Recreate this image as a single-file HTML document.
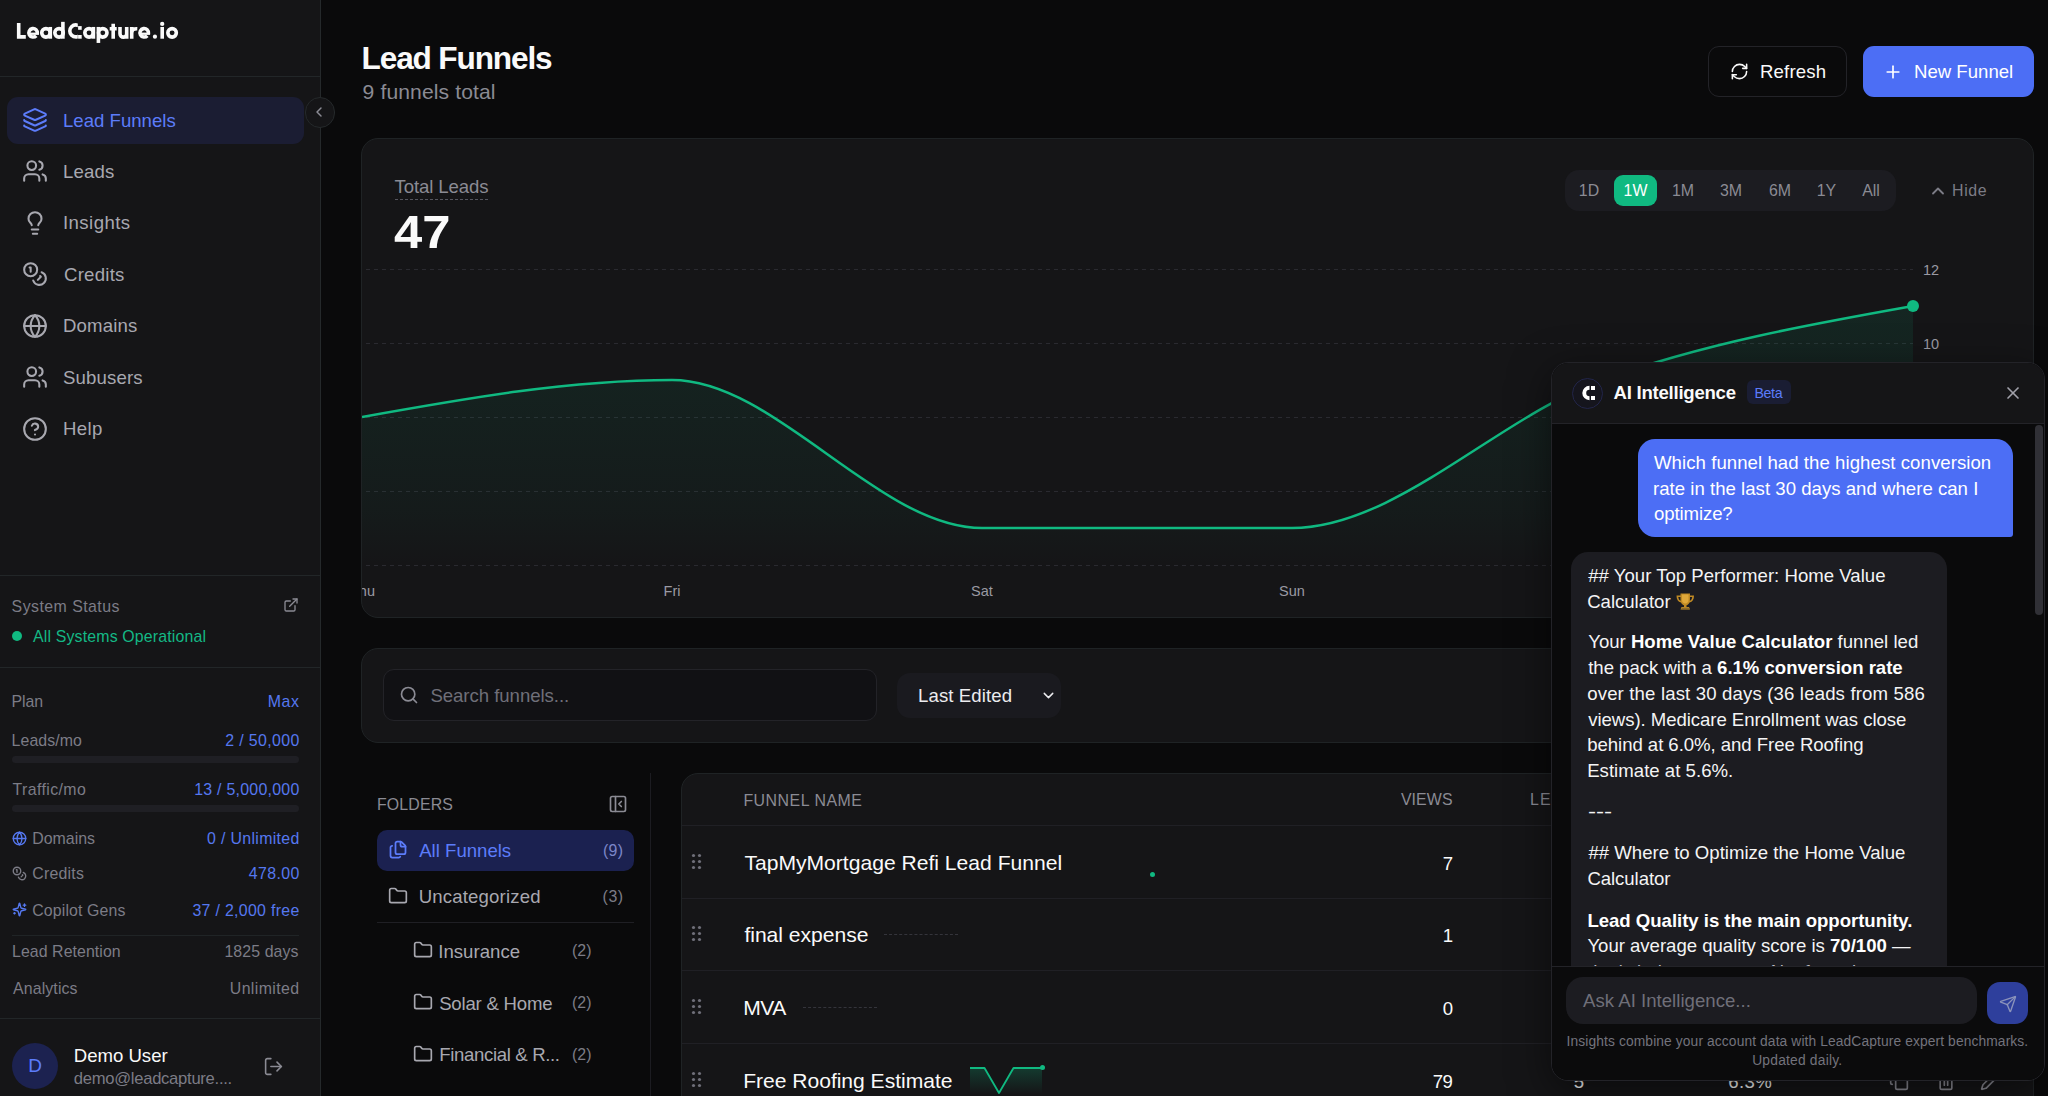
<!DOCTYPE html>
<html lang="en">
<head>
<meta charset="utf-8">
<title>Lead Funnels</title>
<style>
*{box-sizing:border-box;margin:0;padding:0}
html,body{width:2048px;height:1096px;overflow:hidden;background:#0a0a0b}
body{font-family:"Liberation Sans",sans-serif;color:#fafafa;position:relative}
.abs{position:absolute;white-space:nowrap}
svg{display:block}
/* ---------- sidebar ---------- */
#side{position:absolute;left:0;top:0;width:321px;height:1096px;background:#151517;border-right:1px solid #25292b}
.logo{left:16px;top:15px;font-size:22.7px;font-weight:700;color:#fff;line-height:30px;-webkit-text-stroke:.45px #fff}
.hr{position:absolute;left:0;width:320px;height:1px;background:#222628}
.nav{position:absolute;left:7px;width:297px;height:47px;border-radius:11px}
.nav.on{background:#1b1d33}
.nav svg{position:absolute;left:15px;top:10.3px}
.nav span{position:absolute;left:56px;top:11px;font-size:18.6px;line-height:24px;color:#a8a8b0;white-space:nowrap}
.nav.on span{color:#5c7cfa}
.sl{font-size:15.9px;line-height:20px;color:#7c7c86}
.sv{font-size:15.9px;line-height:20px;color:#5578f0;right:21px;text-align:right}
.sg{font-size:15.9px;line-height:20px;color:#7c7c86;right:21px;text-align:right}
.bar{position:absolute;left:12px;width:287px;height:7px;border-radius:4px;background:#1f1f24}
/* ---------- main ---------- */
#chat{position:absolute;left:1551px;top:361.7px;width:494px;height:719px;border:1px solid #232328;border-radius:17px;background:#0a0a0b;overflow:hidden;box-shadow:0 10px 40px rgba(0,0,0,.5)}
.cm{font-size:18.6px;line-height:25.800px;color:#f4f4f5}
.cm b{font-weight:700;color:#fff}

.fn{font-size:18.6px;line-height:24px;color:#a8a8b0}
.fc{font-size:15.9px;line-height:20px;color:#7c7c86}
.th{font-size:15.9px;line-height:20px;color:#8b8b94;letter-spacing:1.200px}
.tl{left:682px;width:1351px;height:1px;background:#202025}
.tn{left:743px;font-size:21.1px;line-height:28px;color:#fafafa}
.tv{right:595px;font-size:18.6px;line-height:24px;color:#fafafa}
.grip{left:691px;width:12px;height:18px}

.rg{top:181px;font-size:15.9px;line-height:20px;color:#8b8b94;transform:translateX(-50%)}

.card{position:absolute;background:#151517;border:1px solid #1f2325;border-radius:17px}
</style>
</head>
<body>

<!-- ================= SIDEBAR ================= -->
<div id="side">
  <svg class="abs" style="left:0;top:0" width="200" height="60" viewBox="0 0 200 60"><defs><clipPath id="lc"><rect x="60" y="20" width="17.8" height="22"/></clipPath></defs><g fill="none" stroke="#fafafa" stroke-width="3.6"><path d="M18.7 23.06V36.92H25.8" stroke-linejoin="miter"/><path d="M37.30 33.45A4.25 4.25 0 1 0 36.21 35.69"/><path d="M28.80 33.75H39.00" stroke-width="2.3"/><circle cx="45.95" cy="32.85" r="4.25"/><path d="M50.3 26.95V38.72"/><circle cx="59.05" cy="32.85" r="4.25"/><path d="M62.9 21.84V38.72"/><circle cx="75.8" cy="30.9" r="6" clip-path="url(#lc)"/><circle cx="89.05" cy="32.85" r="4.25"/><path d="M93.4 26.95V38.72"/><path d="M98.4 26.95V42.94"/><circle cx="102.75" cy="32.85" r="4.25"/><path d="M113.2 23.7V38.72M109.7 28.7H116.7"/><path d="M120 26.95V33.75A3.35 3.35 0 0 0 126.7 33.75V26.95M126.7 26.95V38.72"/><path d="M131.7 26.95V38.72M131.7 33.500C131.7 29.800 133.600 28.600 137.300 28.750"/><path d="M148.40 33.45A4.25 4.25 0 1 0 147.31 35.69"/><path d="M139.90 33.75H150.10" stroke-width="2.3"/><path d="M162.2 26.95V38.72"/><circle cx="172.10" cy="32.85" r="4.25"/></g><g fill="#fafafa"><rect x="78.1" y="26.1" width="3.6" height="3.7"/><rect x="78.1" y="35" width="3.6" height="3.7"/><circle cx="154.950" cy="36.650" r="2.100"/><circle cx="162.2" cy="23.950" r="2.150"/></g></svg>
  <div class="hr" style="top:76px"></div>

  <div class="nav on" style="top:97px">
    <svg width="26" height="26" viewBox="0 0 24 24" fill="none" stroke="#5c7cfa" stroke-width="1.9" stroke-linecap="round" stroke-linejoin="round"><path d="M12.83 2.18a2 2 0 0 0-1.66 0L2.6 6.080a1 1 0 0 0 0 1.830l8.580 3.910a2 2 0 0 0 1.660 0l8.580-3.900a1 1 0 0 0 0-1.830z"/><path d="M2 12a1 1 0 0 0 .580.910l8.600 3.910a2 2 0 0 0 1.650 0l8.580-3.900A1 1 0 0 0 22 12"/><path d="M2 17a1 1 0 0 0 .580.910l8.600 3.910a2 2 0 0 0 1.650 0l8.580-3.900A1 1 0 0 0 22 17"/></svg>
    <span style="margin-left:0.0px;margin-top:0.8px;letter-spacing:0.00px">Lead Funnels</span>
  </div>
  <div class="nav" style="top:148px">
    <svg width="26" height="26" viewBox="0 0 24 24" fill="none" stroke="#a8a8b0" stroke-width="1.9" stroke-linecap="round" stroke-linejoin="round"><path d="M16 21v-2a4 4 0 0 0-4-4H6a4 4 0 0 0-4 4v2"/><circle cx="9" cy="7" r="4"/><path d="M22 21v-2a4 4 0 0 0-3-3.870"/><path d="M16 3.130a4 4 0 0 1 0 7.750"/></svg>
    <span style="margin-left:0.0px;margin-top:1.0px;letter-spacing:0.13px">Leads</span>
  </div>
  <div class="nav" style="top:200px">
    <svg width="26" height="26" viewBox="0 0 24 24" fill="none" stroke="#a8a8b0" stroke-width="1.9" stroke-linecap="round" stroke-linejoin="round"><path d="M15 14c.2-1 .7-1.700 1.500-2.500 1-.900 1.500-2.200 1.500-3.500A6 6 0 0 0 6 8c0 1 .2 2.200 1.500 3.500.7.700 1.300 1.500 1.500 2.500"/><path d="M9 18h6"/><path d="M10 22h4"/></svg>
    <span style="margin-left:0.0px;letter-spacing:0.43px">Insights</span>
  </div>
  <div class="nav" style="top:251px">
    <svg width="26" height="26" viewBox="0 0 24 24" fill="none" stroke="#a8a8b0" stroke-width="1.9" stroke-linecap="round" stroke-linejoin="round"><circle cx="8" cy="8" r="6"/><path d="M18.090 10.370A6 6 0 1 1 10.340 18"/><path d="M7 6h1v4"/><path d="m16.710 13.880.7.710-2.820 2.820"/></svg>
    <span style="margin-left:1.0px;margin-top:1.2px;letter-spacing:0.25px">Credits</span>
  </div>
  <div class="nav" style="top:303px">
    <svg width="26" height="26" viewBox="0 0 24 24" fill="none" stroke="#a8a8b0" stroke-width="1.9" stroke-linecap="round" stroke-linejoin="round"><circle cx="12" cy="12" r="10"/><path d="M12 2a14.500 14.500 0 0 0 0 20 14.500 14.500 0 0 0 0-20"/><path d="M2 12h20"/></svg>
    <span style="margin-left:0.0px;margin-top:0.0px;letter-spacing:0.17px">Domains</span>
  </div>
  <div class="nav" style="top:354px">
    <svg width="26" height="26" viewBox="0 0 24 24" fill="none" stroke="#a8a8b0" stroke-width="1.9" stroke-linecap="round" stroke-linejoin="round"><path d="M16 21v-2a4 4 0 0 0-4-4H6a4 4 0 0 0-4 4v2"/><circle cx="9" cy="7" r="4"/><path d="M22 21v-2a4 4 0 0 0-3-3.870"/><path d="M16 3.130a4 4 0 0 1 0 7.750"/></svg>
    <span style="margin-left:0.0px;margin-top:0.8px;letter-spacing:0.14px">Subusers</span>
  </div>
  <div class="nav" style="top:406px">
    <svg width="26" height="26" viewBox="0 0 24 24" fill="none" stroke="#a8a8b0" stroke-width="1.9" stroke-linecap="round" stroke-linejoin="round"><circle cx="12" cy="12" r="10"/><path d="M9.090 9a3 3 0 0 1 5.830 1c0 2-3 3-3 3"/><path d="M12 17h.01"/></svg>
    <span style="margin-left:0.0px;letter-spacing:0.33px">Help</span>
  </div>

  <!-- system status -->
  <div class="hr" style="top:575px"></div>
  <div class="abs sl" style="left:11.6px;top:597.0px;font-size:15.9px;letter-spacing:0.45px">System Status</div>
  <svg class="abs" style="left:283px;top:597px" width="16" height="16" viewBox="0 0 24 24" fill="none" stroke="#8b8b94" stroke-width="2" stroke-linecap="round" stroke-linejoin="round"><path d="M15 3h6v6"/><path d="M10 14 21 3"/><path d="M18 13v6a2 2 0 0 1-2 2H5a2 2 0 0 1-2-2V8a2 2 0 0 1 2-2h6"/></svg>
  <div class="abs" style="left:12px;top:631px;width:10px;height:10px;border-radius:50%;background:#10b981"></div>
  <div class="abs" style="left:33.0px;top:627.0px;font-size:15.9px;line-height:20px;color:#14b885;letter-spacing:0.16px">All Systems Operational</div>
  <div class="hr" style="top:667px"></div>

  <!-- plan -->
  <div class="abs sl" style="left:11.6px;top:692px;letter-spacing:-0.13px">Plan</div>
  <div class="abs sv" style="top:692px;margin-right:-0.6px;letter-spacing:0.60px">Max</div>
  <div class="abs sl" style="left:11.6px;top:731px;letter-spacing:0.06px">Leads/mo</div>
  <div class="abs sv" style="top:731px;margin-right:-0.6px;letter-spacing:0.37px">2 / 50,000</div>
  <div class="bar" style="top:756px"></div>
  <div class="abs sl" style="left:12.6px;top:780px;letter-spacing:0.38px">Traffic/mo</div>
  <div class="abs sv" style="top:780px;margin-right:-0.6px;letter-spacing:0.27px">13 / 5,000,000</div>
  <div class="bar" style="top:805px"></div>

  <svg class="abs" style="left:12px;top:831px" width="15" height="15" viewBox="0 0 24 24" fill="none" stroke="#5578f0" stroke-width="2.200" stroke-linecap="round" stroke-linejoin="round"><circle cx="12" cy="12" r="10"/><path d="M12 2a14.500 14.500 0 0 0 0 20 14.500 14.500 0 0 0 0-20"/><path d="M2 12h20"/></svg>
  <div class="abs sl" style="left:32.2px;top:829px;letter-spacing:0.03px">Domains</div>
  <div class="abs sv" style="top:829px;margin-right:-0.6px;letter-spacing:0.32px">0 / Unlimited</div>

  <svg class="abs" style="left:12px;top:866px" width="15" height="15" viewBox="0 0 24 24" fill="none" stroke="#7c7c86" stroke-width="2.200" stroke-linecap="round" stroke-linejoin="round"><circle cx="8" cy="8" r="6"/><path d="M18.090 10.370A6 6 0 1 1 10.340 18"/><path d="M7 6h1v4"/><path d="m16.710 13.880.7.710-2.820 2.820"/></svg>
  <div class="abs sl" style="left:32.2px;top:864px;letter-spacing:0.23px">Credits</div>
  <div class="abs sv" style="top:864px;margin-right:-0.6px;letter-spacing:0.36px">478.00</div>

  <svg class="abs" style="left:12px;top:902px" width="15" height="15" viewBox="0 0 24 24" fill="none" stroke="#5578f0" stroke-width="2.200" stroke-linecap="round" stroke-linejoin="round"><path d="M9.940 15.500A2 2 0 0 0 8.500 14.060l-6.140-1.580a.5.5 0 0 1 0-.960L8.500 9.940A2 2 0 0 0 9.940 8.500l1.580-6.140a.5.5 0 0 1 .960 0L14.060 8.500A2 2 0 0 0 15.500 9.940l6.140 1.580a.5.5 0 0 1 0 .960L15.500 14.060a2 2 0 0 0-1.440 1.440l-1.580 6.140a.5.5 0 0 1-.960 0z"/><path d="M20 3v4"/><path d="M22 5h-4"/><path d="M4 17v2"/><path d="M5 18H3"/></svg>
  <div class="abs sl" style="left:32.2px;top:901px;letter-spacing:0.13px">Copilot Gens</div>
  <div class="abs sv" style="top:901px;margin-right:-0.6px;letter-spacing:0.31px">37 / 2,000 free</div>

  <div class="abs" style="left:12px;top:935px;width:287px;height:1px;background:#202426"></div>
  <div class="abs sl" style="left:12.0px;top:942px;letter-spacing:0.07px">Lead Retention</div>
  <div class="abs sg" style="top:942px;margin-right:0.4px;letter-spacing:0.10px">1825 days</div>
  <div class="abs sl" style="left:13.0px;top:979px;letter-spacing:0.12px">Analytics</div>
  <div class="abs sg" style="top:979px;margin-right:-0.6px;letter-spacing:0.40px">Unlimited</div>

  <div class="hr" style="top:1018px"></div>
  <!-- user -->
  <div class="abs" style="left:12px;top:1043px;width:46px;height:46px;border-radius:50%;background:#1c2250;color:#5c7cfa;font-size:19px;line-height:46px;text-align:center">D</div>
  <div class="abs" style="left:73.8px;top:1044px;font-size:18.6px;line-height:24px;color:#fafafa;letter-spacing:-0.02px">Demo User</div>
  <div class="abs" style="left:73.8px;top:1068px;font-size:16.6px;line-height:22px;color:#7c7c86;letter-spacing:-0.27px">demo@leadcapture....</div>
  <svg class="abs" style="left:263px;top:1056px" width="21" height="21" viewBox="0 0 24 24" fill="none" stroke="#8b8b94" stroke-width="1.800" stroke-linecap="round" stroke-linejoin="round"><path d="M9 21H5a2 2 0 0 1-2-2V5a2 2 0 0 1 2-2h4"/><path d="m16 17 5-5-5-5"/><path d="M21 12H9"/></svg>
</div>
<!-- collapse toggle -->
<div class="abs" style="left:304.5px;top:97.2px;width:30.6px;height:30.6px;border-radius:50%;background:#151517;border:1px solid #25292b"></div>
<svg class="abs" style="left:311px;top:104px" width="16" height="16" viewBox="0 0 24 24" fill="none" stroke="#8b8b94" stroke-width="2.200" stroke-linecap="round" stroke-linejoin="round"><path d="m15 18-6-6 6-6"/></svg>

<!-- ================= HEADER ================= -->
<div class="abs" style="left:361.6px;top:39.1px;font-size:31.6px;font-weight:700;line-height:38px;color:#fafafa;letter-spacing:-1.15px">Lead Funnels</div>
<div class="abs" style="left:362.6px;top:79px;font-size:21.1px;line-height:26px;color:#8b8b94;letter-spacing:0.11px">9 funnels total</div>


<!-- header buttons -->
<div class="abs" style="left:1708px;top:46px;width:139px;height:51px;border:1px solid #232328;border-radius:11px;background:#0a0a0b"></div>
<svg class="abs" style="left:1730px;top:62px" width="19" height="19" viewBox="0 0 24 24" fill="none" stroke="#fafafa" stroke-width="2" stroke-linecap="round" stroke-linejoin="round"><path d="M3 12a9 9 0 0 1 9-9 9.750 9.750 0 0 1 6.740 2.740L21 8"/><path d="M21 3v5h-5"/><path d="M21 12a9 9 0 0 1-9 9 9.750 9.750 0 0 1-6.740-2.740L3 16"/><path d="M8 16H3v5"/></svg>
<div class="abs" style="left:1760.0px;top:60.2px;font-size:18.6px;line-height:24px;color:#fafafa;letter-spacing:0.16px">Refresh</div>
<div class="abs" style="left:1863px;top:46px;width:171px;height:51px;border-radius:11px;background:#4c6ef5"></div>
<svg class="abs" style="left:1883px;top:62px" width="20" height="20" viewBox="0 0 24 24" fill="none" stroke="#fff" stroke-width="2" stroke-linecap="round"><path d="M5 12h14"/><path d="M12 5v14"/></svg>
<div class="abs" style="left:1914.0px;top:60.2px;font-size:18.6px;line-height:24px;color:#fff;letter-spacing:0.00px">New Funnel</div>

<!-- ================= CHART CARD ================= -->
<div class="card" style="left:361.4px;top:138.4px;width:1672.6px;height:479.4px"></div>
<div class="abs" style="left:394.6px;top:175.9px;font-size:18.6px;line-height:22px;color:#8b8b94;border-bottom:1px dashed #55555e;padding-bottom:1px;letter-spacing:-0.12px">Total Leads</div>
<div class="abs" style="left:394.4px;top:204px;font-size:46.2px;font-weight:700;line-height:56px;color:#fafafa;letter-spacing:0;transform:scaleX(1.1);transform-origin:0 0">47</div>

<div class="abs" style="left:1565px;top:170px;width:331px;height:41px;border-radius:14px;background:#1c1c21"></div>
<div class="abs" style="left:1614px;top:175px;width:43px;height:31px;border-radius:9px;background:#10b981"></div>
<div class="abs rg" style="left:1589px">1D</div>
<div class="abs rg" style="left:1635.500px;color:#fff">1W</div>
<div class="abs rg" style="left:1683px">1M</div>
<div class="abs rg" style="left:1731px">3M</div>
<div class="abs rg" style="left:1780px">6M</div>
<div class="abs rg" style="left:1826.500px">1Y</div>
<div class="abs rg" style="left:1871px">All</div>
<svg class="abs" style="left:1927.5px;top:181px" width="20" height="20" viewBox="0 0 24 24" fill="none" stroke="#7c7c86" stroke-width="2.200" stroke-linecap="round" stroke-linejoin="round"><path d="m18 15-6-6-6 6"/></svg>
<div class="abs" style="left:1952.0px;top:181px;font-size:15.9px;line-height:20px;color:#7c7c86;letter-spacing:0.66px">Hide</div>

<svg class="abs" style="left:362px;top:250px" width="1672" height="360" viewBox="362 250 1672 360">
  <defs>
    <linearGradient id="ag" x1="0" y1="306" x2="0" y2="565" gradientUnits="userSpaceOnUse">
      <stop offset="0" stop-color="#10b981" stop-opacity=".105"/>
      <stop offset=".8" stop-color="#10b981" stop-opacity=".035"/>
      <stop offset="1" stop-color="#10b981" stop-opacity="0"/>
    </linearGradient>
  </defs>
  <g stroke="#2a2a30" stroke-width="1" stroke-dasharray="4 4">
    <path d="M366 269.500H1913"/><path d="M366 343.500H1913"/><path d="M366 417.500H1913"/><path d="M366 491.500H1913"/><path d="M366 565.500H1913"/>
  </g>
  <path d="M362.0,417.0 C465.3,398.5 568.7,380.0 672.0,380.0 C775.3,380.0 878.7,528.0 982.0,528.0 C1085.3,528.0 1188.7,528.0 1292.0,528.0 C1395.3,528.0 1498.7,417.0 1602.0,380.0 C1705.7,342.9 1809.3,324.5 1913.0,306.0 L1913,565 L362,565 Z" fill="url(#ag)"/>
  <path d="M362.0,417.0 C465.3,398.5 568.7,380.0 672.0,380.0 C775.3,380.0 878.7,528.0 982.0,528.0 C1085.3,528.0 1188.7,528.0 1292.0,528.0 C1395.3,528.0 1498.7,417.0 1602.0,380.0 C1705.7,342.9 1809.3,324.5 1913.0,306.0" fill="none" stroke="#10b981" stroke-width="2.500"/>
  <circle cx="1913" cy="306" r="6" fill="#10b981"/>
  <g fill="#9a9aa3" font-family="Liberation Sans, sans-serif" font-size="14.5">
    <text x="1923" y="274.500">12</text><text x="1923" y="348.500">10</text>
    <text x="350" y="596">Thu</text><text x="672" y="596" text-anchor="middle">Fri</text><text x="982" y="596" text-anchor="middle">Sat</text><text x="1292" y="596" text-anchor="middle">Sun</text>
  </g>
</svg>


<!-- ================= SEARCH CARD ================= -->
<div class="card" style="left:361.4px;top:648.3px;width:1672.6px;height:94.4px"></div>
<div class="abs" style="left:383px;top:669px;width:494px;height:52px;border:1px solid #232328;border-radius:11px;background:#111114"></div>
<svg class="abs" style="left:399px;top:685px" width="20" height="20" viewBox="0 0 24 24" fill="none" stroke="#8b8b94" stroke-width="2" stroke-linecap="round" stroke-linejoin="round"><circle cx="11" cy="11" r="8"/><path d="m21 21-4.300-4.300"/></svg>
<div class="abs" style="left:430.4px;top:684.3px;font-size:18.6px;line-height:24px;color:#6f6f79;letter-spacing:-0.04px">Search funnels...</div>
<div class="abs" style="left:897px;top:673px;width:164px;height:45px;border-radius:13px;background:#1a1a1f"></div>
<div class="abs" style="left:918.0px;top:684.3px;font-size:18.6px;line-height:24px;color:#ececef;letter-spacing:0.10px">Last Edited</div>
<svg class="abs" style="left:1040px;top:687px" width="17" height="17" viewBox="0 0 24 24" fill="none" stroke="#ececef" stroke-width="2" stroke-linecap="round" stroke-linejoin="round"><path d="m6 9 6 6 6-6"/></svg>


<!-- ================= FOLDERS ================= -->
<div class="abs" style="left:377.0px;top:795.1px;font-size:15.9px;line-height:20px;color:#8b8b94;letter-spacing:0.13px">FOLDERS</div>
<svg class="abs" style="left:608px;top:794px" width="20" height="20" viewBox="0 0 24 24" fill="none" stroke="#8b8b94" stroke-width="2" stroke-linecap="round" stroke-linejoin="round"><rect x="3" y="3" width="18" height="18" rx="2"/><path d="M9 3v18"/><path d="m16 15-3-3 3-3"/></svg>
<div class="abs" style="left:377px;top:830px;width:257px;height:41px;border-radius:10px;background:#1b2150"></div>
<svg class="abs" style="left:388px;top:840px" width="20" height="20" viewBox="0 0 24 24" fill="none" stroke="#5c7cfa" stroke-width="2.100" stroke-linecap="round" stroke-linejoin="round"><path d="M15 2a2 2 0 0 1 1.410.590l4 4A2 2 0 0 1 21 8v7a2 2 0 0 1-2 2h-8a2 2 0 0 1-2-2V4a2 2 0 0 1 2-2z"/><path d="M15 2v4a2 2 0 0 0 2 2h4"/><path d="M5 7a2 2 0 0 0-2 2v10a2 2 0 0 0 2 2h8a2 2 0 0 0 1.730-1"/></svg>
<div class="abs" style="left:419.2px;top:838.9px;font-size:18.6px;line-height:24px;color:#5c7cfa;letter-spacing:0.00px">All Funnels</div>
<div class="abs fc" style="left:603.0px;top:840.6px;color:#7c86c8;letter-spacing:0.30px">(9)</div>

<svg class="abs" style="left:388px;top:886px" width="20" height="20" viewBox="0 0 24 24" fill="none" stroke="#a8a8b0" stroke-width="2" stroke-linecap="round" stroke-linejoin="round"><path d="M20 20a2 2 0 0 0 2-2V8a2 2 0 0 0-2-2h-7.900a2 2 0 0 1-1.690-.900L9.600 3.900A2 2 0 0 0 7.930 3H4a2 2 0 0 0-2 2v13a2 2 0 0 0 2 2Z"/></svg>
<div class="abs fn" style="left:418.8px;top:885px;letter-spacing:0.15px">Uncategorized</div>
<div class="abs fc" style="left:602.6px;top:887px;letter-spacing:0.50px">(3)</div>
<div class="abs" style="left:377px;top:922px;width:257px;height:1px;background:#1f1f24"></div>

<svg class="abs" style="left:413px;top:940px" width="20" height="20" viewBox="0 0 24 24" fill="none" stroke="#a8a8b0" stroke-width="2" stroke-linecap="round" stroke-linejoin="round"><path d="M20 20a2 2 0 0 0 2-2V8a2 2 0 0 0-2-2h-7.900a2 2 0 0 1-1.690-.900L9.600 3.900A2 2 0 0 0 7.930 3H4a2 2 0 0 0-2 2v13a2 2 0 0 0 2 2Z"/></svg>
<div class="abs fn" style="left:438.2px;top:939.7px;letter-spacing:0.04px">Insurance</div>
<div class="abs fc" style="left:572.0px;top:941px;letter-spacing:0.00px">(2)</div>

<svg class="abs" style="left:413px;top:992px" width="20" height="20" viewBox="0 0 24 24" fill="none" stroke="#a8a8b0" stroke-width="2" stroke-linecap="round" stroke-linejoin="round"><path d="M20 20a2 2 0 0 0 2-2V8a2 2 0 0 0-2-2h-7.900a2 2 0 0 1-1.690-.900L9.600 3.900A2 2 0 0 0 7.930 3H4a2 2 0 0 0-2 2v13a2 2 0 0 0 2 2Z"/></svg>
<div class="abs fn" style="left:439.2px;top:991.7px;letter-spacing:-0.22px">Solar &amp; Home</div>
<div class="abs fc" style="left:572.0px;top:993px;letter-spacing:0.00px">(2)</div>

<svg class="abs" style="left:413px;top:1044px" width="20" height="20" viewBox="0 0 24 24" fill="none" stroke="#a8a8b0" stroke-width="2" stroke-linecap="round" stroke-linejoin="round"><path d="M20 20a2 2 0 0 0 2-2V8a2 2 0 0 0-2-2h-7.900a2 2 0 0 1-1.690-.900L9.600 3.900A2 2 0 0 0 7.930 3H4a2 2 0 0 0-2 2v13a2 2 0 0 0 2 2Z"/></svg>
<div class="abs fn" style="left:439.2px;top:1043px;letter-spacing:-0.35px">Financial &amp; R...</div>
<div class="abs fc" style="left:572.0px;top:1045px;letter-spacing:0.00px">(2)</div>

<div class="abs" style="left:650px;top:773px;width:1px;height:330px;background:#1c1c21"></div>


<!-- ================= TABLE ================= -->
<div class="card" style="left:681px;top:772.8px;width:1353px;height:360px"></div>
<div class="abs th" style="left:743.4px;top:790.5px;letter-spacing:0.52px">FUNNEL NAME</div>
<div class="abs th" style="right:595.4px;top:790px;letter-spacing:0.10px">VIEWS</div>
<div class="abs th" style="left:1530px;top:790px">LEADS</div>
<div class="abs tl" style="top:825px"></div>
<div class="abs tl" style="top:898px"></div>
<div class="abs tl" style="top:970px"></div>
<div class="abs tl" style="top:1043px"></div>

<svg class="abs grip" style="top:853px"><g fill="#6f6f79"><circle cx="2.500" cy="2.500" r="1.600"/><circle cx="8.500" cy="2.500" r="1.600"/><circle cx="2.500" cy="8.500" r="1.600"/><circle cx="8.500" cy="8.500" r="1.600"/><circle cx="2.500" cy="14.500" r="1.600"/><circle cx="8.500" cy="14.500" r="1.600"/></g></svg>
<div class="abs tn" style="top:849px;margin-left:1.4px;letter-spacing:0.00px">TapMyMortgage Refi Lead Funnel</div>
<div class="abs" style="left:1149.500px;top:871.500px;width:5px;height:5px;border-radius:50%;background:#10b981"></div>
<div class="abs tv" style="top:852px">7</div>

<svg class="abs grip" style="top:925px"><g fill="#6f6f79"><circle cx="2.500" cy="2.500" r="1.600"/><circle cx="8.500" cy="2.500" r="1.600"/><circle cx="2.500" cy="8.500" r="1.600"/><circle cx="8.500" cy="8.500" r="1.600"/><circle cx="2.500" cy="14.500" r="1.600"/><circle cx="8.500" cy="14.500" r="1.600"/></g></svg>
<div class="abs tn" style="top:921px;margin-left:1.4px;letter-spacing:-0.02px">final expense</div>
<div class="abs" style="left:884px;top:934px;width:74px;height:0;border-top:1px dashed #34343b"></div>
<div class="abs tv" style="top:924px">1</div>

<svg class="abs grip" style="top:998px"><g fill="#6f6f79"><circle cx="2.500" cy="2.500" r="1.600"/><circle cx="8.500" cy="2.500" r="1.600"/><circle cx="2.500" cy="8.500" r="1.600"/><circle cx="8.500" cy="8.500" r="1.600"/><circle cx="2.500" cy="14.500" r="1.600"/><circle cx="8.500" cy="14.500" r="1.600"/></g></svg>
<div class="abs tn" style="top:994px;margin-left:0.2px;letter-spacing:-0.50px">MVA</div>
<div class="abs" style="left:803px;top:1007px;width:74px;height:0;border-top:1px dashed #34343b"></div>
<div class="abs tv" style="top:997px">0</div>

<svg class="abs grip" style="top:1071px"><g fill="#6f6f79"><circle cx="2.500" cy="2.500" r="1.600"/><circle cx="8.500" cy="2.500" r="1.600"/><circle cx="2.500" cy="8.500" r="1.600"/><circle cx="8.500" cy="8.500" r="1.600"/><circle cx="2.500" cy="14.500" r="1.600"/><circle cx="8.500" cy="14.500" r="1.600"/></g></svg>
<div class="abs tn" style="top:1067px;margin-left:0.2px;letter-spacing:-0.03px">Free Roofing Estimate</div>
<svg class="abs" style="left:966px;top:1060px" width="84" height="40" viewBox="966 1060 84 40">
  <defs><linearGradient id="sg" x1="0" y1="1067" x2="0" y2="1094" gradientUnits="userSpaceOnUse"><stop offset="0" stop-color="#10b981" stop-opacity=".24"/><stop offset="1" stop-color="#10b981" stop-opacity="0"/></linearGradient></defs>
  <path d="M970 1068h14.500l14.500 25 14.500-25h28.500v26h-72z" fill="url(#sg)"/>
  <path d="M970 1068h14.500l14.500 25 14.500-25h28.500" fill="none" stroke="#10b981" stroke-width="1.800" stroke-linejoin="round"/>
  <circle cx="1042.500" cy="1067.500" r="2.500" fill="#10b981"/>
</svg>
<div class="abs tv" style="top:1069.5px;margin-right:0.8px;letter-spacing:-0.60px">79</div>
<div class="abs" style="left:1573.7px;top:1069.6px;font-size:18.6px;line-height:24px;color:#fafafa">5</div>
<div class="abs" style="left:1728.2px;top:1069.6px;font-size:18.6px;line-height:24px;color:#fafafa;letter-spacing:.4px">6.3%</div>
<svg class="abs" style="left:1889px;top:1071px" width="20" height="20" viewBox="0 0 24 24" fill="none" stroke="#8b8b94" stroke-width="2" stroke-linecap="round" stroke-linejoin="round"><rect width="14" height="14" x="8" y="8" rx="2"/><path d="M4 16c-1.100 0-2-.900-2-2V4c0-1.100.900-2 2-2h10c1.100 0 2 .900 2 2"/></svg>
<svg class="abs" style="left:1936px;top:1071px" width="20" height="20" viewBox="0 0 24 24" fill="none" stroke="#8b8b94" stroke-width="2" stroke-linecap="round" stroke-linejoin="round"><path d="M3 6h18"/><path d="M19 6v14c0 1-1 2-2 2H7c-1 0-2-1-2-2V6"/><path d="M8 6V4c0-1 1-2 2-2h4c1 0 2 1 2 2v2"/><path d="M10 11v6"/><path d="M14 11v6"/></svg>
<svg class="abs" style="left:1980px;top:1071px" width="20" height="20" viewBox="0 0 24 24" fill="none" stroke="#8b8b94" stroke-width="2" stroke-linecap="round" stroke-linejoin="round"><path d="M21.170 6.810a1 1 0 0 0-3.980-3.980L3.840 16.170a2 2 0 0 0-.5.830l-1.320 4.350a.5.5 0 0 0 .620.620l4.350-1.320a2 2 0 0 0 .830-.5z"/></svg>


<!-- ================= CHAT PANEL ================= -->
<div id="chat">
  <div class="abs" style="left:0;top:0;width:100%;height:61.5px;background:#151517;border-bottom:1px solid #232328"></div>
  <div class="abs" style="left:20px;top:15px;width:31px;height:31px;border-radius:50%;background:#15151d;border:1px solid #23264a"></div>
  <svg class="abs" style="left:27px;top:21px" width="18" height="18" viewBox="0 0 18 18"><path d="M10.500 1.800A7.200 7.200 0 1 0 10.500 16.200V12.300A3.300 3.300 0 1 1 10.500 5.700Z" fill="#fff"/><rect x="12" y="2" width="4" height="4" fill="#fff"/><rect x="12" y="12" width="4" height="4" fill="#fff"/></svg>
  <div class="abs" style="left:61.6px;top:18px;font-size:18.6px;font-weight:700;line-height:24px;color:#fafafa;letter-spacing:-0.26px">AI Intelligence</div>
  <div class="abs" style="left:194.5px;top:17px;width:44.5px;height:24.5px;border-radius:6px;background:#1a1d33"></div>
  <div class="abs" style="left:202.4px;top:21px;font-size:14.2px;line-height:18px;color:#5c7cfa;letter-spacing:-0.34px">Beta</div>
  <svg class="abs" style="left:451px;top:20px" width="20" height="20" viewBox="0 0 24 24" fill="none" stroke="#a1a1aa" stroke-width="2" stroke-linecap="round"><path d="M18 6 6 18"/><path d="m6 6 12 12"/></svg>

  <!-- scrollbar -->
  <div class="abs" style="left:482.5px;top:62px;width:8.5px;height:190px;border-radius:4px;background:#303036"></div>

  <!-- user bubble -->
  <div class="abs" style="left:86px;top:76.3px;width:375px;height:98px;border-radius:17px 17px 3px 17px;background:#4c6ef5"></div>
  <div class="abs cm ln" style="left:102.0px;top:87.3px;color:#fff;letter-spacing:0.06px">Which funnel had the highest conversion</div>
  <div class="abs cm ln" style="left:101.0px;top:113.1px;color:#fff;letter-spacing:0.02px">rate in the last 30 days and where can I</div>
  <div class="abs cm ln" style="left:102.0px;top:138.3px;color:#fff;letter-spacing:-0.11px">optimize?</div>

  <!-- ai bubble -->
  <div class="abs" style="left:19.3px;top:189.3px;width:375.3px;height:420px;border-radius:17px 17px 0 0;background:#1c1c21"></div>
  <div class="abs cm ln" style="left:36.2px;top:200.4px;letter-spacing:0.01px">## Your Top Performer: Home Value</div>
  <div class="abs cm ln" style="left:35.2px;top:226.4px;letter-spacing:-0.03px">Calculator</div>
  <svg class="abs" style="left:124.300px;top:230px" width="18.500" height="17" viewBox="0 0 37 34"><path d="M9 1h19v4h8c0 8-3 13-9 14-1 3-4 5-6 5.500V28h5l2 5H9l2-5h5v-3.500c-2-.500-5-2.500-6-5.500C4 18 1 13 1 5h8z" fill="#c08a24"/><path d="M9 8H4.500c.500 4 2 6.500 4.800 7.500C9 13.500 9 11 9 8zm19 0c0 3 0 5.500-.300 7.500 2.800-1 4.300-3.500 4.800-7.500z" fill="#1c1c21"/><path d="M12 3h13v11c0 4-3 7-6.500 7S12 18 12 14z" fill="#e0a83a"/><rect x="11" y="29.500" width="15" height="3" fill="#8a6a2a"/></svg>
  <div class="abs cm ln" style="left:36.2px;top:266.6px;letter-spacing:0.00px">Your <b>Home Value Calculator</b> funnel led</div>
  <div class="abs cm ln" style="left:36.2px;top:292.5px;letter-spacing:-0.02px">the pack with a <b>6.1% conversion rate</b></div>
  <div class="abs cm ln" style="left:35.2px;top:318.2px;letter-spacing:0.15px">over the last 30 days (36 leads from 586</div>
  <div class="abs cm ln" style="left:36.2px;top:344.1px;letter-spacing:-0.06px">views). Medicare Enrollment was close</div>
  <div class="abs cm ln" style="left:35.2px;top:369.8px;letter-spacing:-0.05px">behind at 6.0%, and Free Roofing</div>
  <div class="abs cm ln" style="left:35.2px;top:395.5px;letter-spacing:0.02px">Estimate at 5.6%.</div>
  <div class="abs cm ln" style="left:36px;top:436.2px;transform:scaleX(1.3);transform-origin:0 50%">---</div>
  <div class="abs cm ln" style="left:36.4px;top:477.7px;letter-spacing:-0.00px">## Where to Optimize the Home Value</div>
  <div class="abs cm ln" style="left:35.4px;top:503.8px;letter-spacing:-0.07px">Calculator</div>
  <div class="abs cm ln" style="left:35.4px;top:545.0px;letter-spacing:-0.03px"><b>Lead Quality is the main opportunity.</b></div>
  <div class="abs cm ln" style="left:35.4px;top:570.8px;letter-spacing:-0.02px">Your average quality score is <b>70/100</b> &mdash;</div>
  <div class="abs cm ln" style="left:36px;top:596.2px;color:#b8b8c0">that's below average. Aim for at least</div>

  <!-- footer -->
  <div class="abs" style="left:0;top:603.5px;width:100%;height:116px;background:#0b0b0c;border-top:1px solid #232328"></div>
  <div class="abs" style="left:14px;top:614.5px;width:411px;height:46.5px;border-radius:17px;background:#1c1c21"></div>
  <div class="abs" style="left:31.0px;top:626.6px;font-size:18.6px;line-height:24px;color:#6f6f79;letter-spacing:0.02px">Ask AI Intelligence...</div>
  <div class="abs" style="left:435.3px;top:619.5px;width:40.5px;height:41.5px;border-radius:13px;background:#2e3f9c"></div>
  <svg class="abs" style="left:447px;top:632px" width="18" height="18" viewBox="0 0 24 24" fill="none" stroke="#8b93bb" stroke-width="1.800" stroke-linecap="round" stroke-linejoin="round"><path d="M14.540 21.690a.5.500 0 0 0 .940-.020l6.500-19a.5.500 0 0 0-.640-.640l-19 6.500a.5.500 0 0 0-.020.940l7.930 3.180a2 2 0 0 1 1.110 1.110z"/><path d="m21.850 2.150-10.940 10.940"/></svg>
  <div class="abs" style="left:14.6px;top:669px;font-size:13.8px;line-height:19px;color:#73737d;letter-spacing:0.11px">Insights combine your account data with LeadCapture expert benchmarks.</div>
  <div class="abs" style="left:200.2px;top:688px;font-size:13.8px;line-height:19px;color:#73737d;letter-spacing:0.21px">Updated daily.</div>
</div>

</body>
</html>
